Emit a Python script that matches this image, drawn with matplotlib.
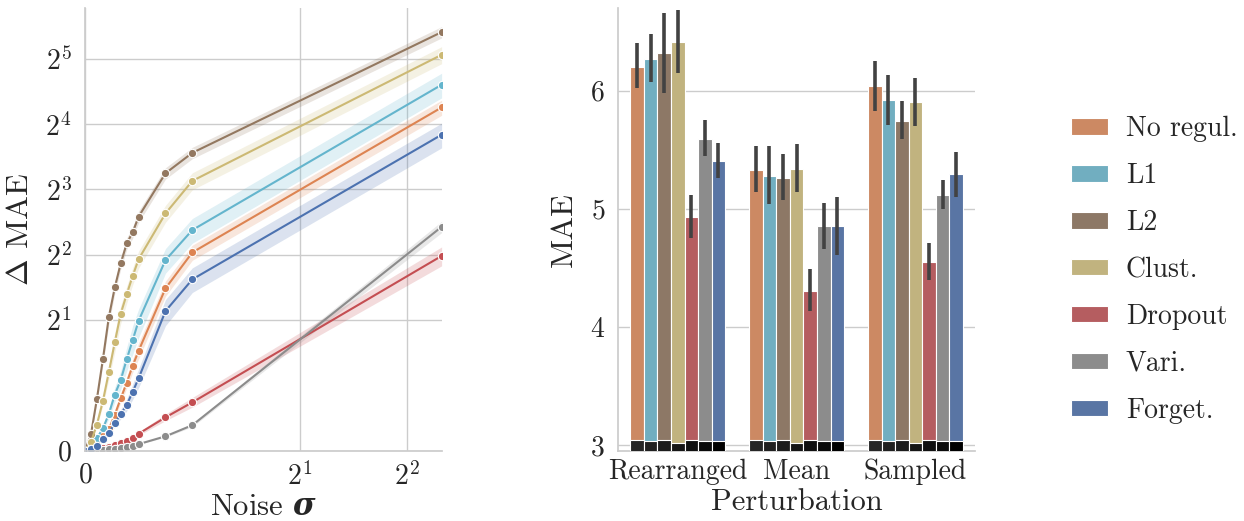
"""
Noise robustness (left) and perturbation MAE (right) per regularisation
"""
import colorsys
import numpy as np
import matplotlib
matplotlib.use("Agg")
from matplotlib import pyplot as plt
from matplotlib.axes import Axes
from matplotlib.colors import to_rgb
from matplotlib.patches import Patch
from matplotlib.ticker import NullFormatter

# ---- data -------------------------------------------------------------
methods: list = ["No regul.", "L1", "L2", "Clust.", "Dropout", "Vari.", "Forget."]
method_colors: list = ["#DD8452", "#64B5CD", "#937860", "#CCB974",
                       "#C44E52", "#8C8C8C", "#4C72B0"]

noise_sigma: list = [0, 0.056, 0.111, 0.167, 0.222, 0.278, 0.333, 0.389,
                     0.444, 0.5, 0.75, 1.0, 5.0]

dmae_no_regul: list = [0, 0.04, 0.12, 0.23, 0.33, 0.55, 0.80, 1.04, 1.30, 1.53, 2.8, 4.1, 19.1]
dmae_l1: list = [0, 0.08, 0.19, 0.34, 0.56, 0.86, 1.08, 1.40, 1.69, 1.99, 3.78, 5.2, 24.3]
dmae_l2: list = [0, 0.25, 0.79, 1.40, 2.06, 2.83, 3.65, 4.51, 5.07, 6.0, 9.5, 11.8, 42.5]
dmae_clust: list = [0, 0.13, 0.40, 0.76, 1.20, 1.66, 2.14, 2.63, 3.19, 3.82, 6.2, 8.76, 33.4]
dmae_dropout: list = [0, 0.01, 0.02, 0.04, 0.06, 0.09, 0.11, 0.15, 0.19, 0.26, 0.51, 0.74, 3.95]
dmae_vari: list = [0, 0.002, 0.005, 0.01, 0.02, 0.03, 0.04, 0.05, 0.07, 0.10, 0.22, 0.39, 5.38]
dmae_forget: list = [0, 0.03, 0.07, 0.18, 0.27, 0.42, 0.56, 0.70, 0.90, 1.11, 2.2, 3.08, 14.3]
# relative half width of the confidence band per method
dmae_spread: list = [0.08, 0.13, 0.06, 0.09, 0.10, 0.06, 0.13]

perturbations: list = ["Rearranged", "Mean", "Sampled"]
# MAE per method, one value per perturbation
mae_no_regul: list = [6.20, 5.33, 6.04]
mae_l1: list = [6.27, 5.28, 5.92]
mae_l2: list = [6.32, 5.26, 5.74]
mae_clust: list = [6.41, 5.34, 5.90]
mae_dropout: list = [4.93, 4.30, 4.55]
mae_vari: list = [5.59, 4.85, 5.12]
mae_forget: list = [5.40, 4.85, 5.29]
# error bar ends (low, high)
mae_err_no_regul: list = [(6.02, 6.40), (5.14, 5.53), (5.83, 6.25)]
mae_err_l1: list = [(6.07, 6.48), (5.04, 5.53), (5.71, 6.13)]
mae_err_l2: list = [(5.98, 6.66), (5.07, 5.46), (5.59, 5.91)]
mae_err_clust: list = [(6.15, 6.68), (5.14, 5.55), (5.70, 6.11)]
mae_err_dropout: list = [(4.75, 5.12), (4.13, 4.49), (4.40, 4.71)]
mae_err_vari: list = [(5.45, 5.75), (4.66, 5.05), (5.00, 5.24)]
mae_err_forget: list = [(5.26, 5.56), (4.61, 5.10), (5.10, 5.48)]
# unperturbed baseline MAE (black bars)
mae_baseline: list = [3.04, 3.03, 3.04, 3.02, 3.045, 3.03, 3.03]
baseline_colors: list = ["#262626", "#202020", "#1c1c1c", "#161616",
                         "#101010", "#0a0a0a", "#000000"]

dmae_series = [dmae_no_regul, dmae_l1, dmae_l2, dmae_clust,
               dmae_dropout, dmae_vari, dmae_forget]
mae_series = [mae_no_regul, mae_l1, mae_l2, mae_clust,
              mae_dropout, mae_vari, mae_forget]
mae_err_series = [mae_err_no_regul, mae_err_l1, mae_err_l2, mae_err_clust,
                  mae_err_dropout, mae_err_vari, mae_err_forget]


def desaturate(color, prop: float = .75):
    """Same as seaborn's bar desaturation"""
    h, l, s = colorsys.rgb_to_hls(*to_rgb(color))
    return colorsys.hls_to_rgb(h, l, s * prop)


# ---- style ------------------------------------------------------------
TEXT = "#262626"
GRID = "#cccccc"
plt.rcParams.update({
    "font.family": ["cmr10", "DejaVu Serif"],
    "mathtext.fontset": "custom",
    "mathtext.rm": "cmr10",
    "mathtext.it": "cmmi10",
    "mathtext.bf": "DejaVu Serif:bold",
    "mathtext.bfit": "DejaVu Serif:italic:bold",
    "mathtext.fallback": "cm",
    "axes.formatter.use_mathtext": True,
    "axes.unicode_minus": False,
    "text.color": TEXT,
    "axes.labelcolor": TEXT,
    "xtick.color": TEXT,
    "ytick.color": TEXT,
    "axes.edgecolor": GRID,
    "axes.linewidth": 1.25,
    "grid.color": GRID,
    "grid.linewidth": 1.0,
    "xtick.major.size": 0,
    "ytick.major.size": 0,
    "xtick.minor.size": 0,
    "ytick.minor.size": 0,
})

fig = plt.figure(figsize=(12.44, 5.21), dpi=100)
ax1: Axes = fig.add_axes([0.0683, 0.135, 0.2867, 0.850])
ax2: Axes = fig.add_axes([0.4970, 0.135, 0.2867, 0.850])

# ---- left: delta MAE vs noise ------------------------------------------
x = np.array(noise_sigma)
for name, color, values, spread in zip(methods, method_colors, dmae_series, dmae_spread):
    y = np.array(values)
    ax1.fill_between(x, y * (1 - spread), y * (1 + spread), color=color,
                     alpha=.2, linewidth=0)
    ax1.plot(x, y, color=color, linewidth=1.5, marker="o", markersize=6,
             markeredgecolor="white", markeredgewidth=.8, label=name, clip_on=True)

ax1.set_xscale("symlog", base=2, linthresh=2, linscale=1)
ax1.set_yscale("symlog", base=2, linthresh=2, linscale=1)
ax1.set_xlim(0, 5)
ax1.set_ylim(0, 55)
ax1.xaxis.set_minor_formatter(NullFormatter())
ax1.yaxis.set_minor_formatter(NullFormatter())
ax1.grid(True, which="major")
ax1.set_axisbelow(True)
ax1.tick_params(axis="x", labelsize=20, pad=8)
ax1.tick_params(axis="y", labelsize=20, pad=9.5)
ax1.set_xlabel(r"Noise $\mathbfit{\sigma}$", fontsize=22, labelpad=2)
ax1.set_ylabel(r"$\Delta$ MAE", fontsize=23, labelpad=8.5)
for side in ["top", "right"]:
    ax1.spines[side].set_visible(False)

# ---- right: MAE per perturbation -----------------------------------------
n = len(methods)
WIDTH = .8 / n
groups = np.arange(len(perturbations))
for i, (name, color, values, errs) in enumerate(zip(methods, method_colors,
                                                    mae_series, mae_err_series)):
    pos = groups - .4 + WIDTH * (i + .5)
    ax2.bar(pos, values, width=WIDTH, color=desaturate(color),
            edgecolor="white", linewidth=.8, label=name, zorder=2)
    for p, (lo, hi) in zip(pos, errs):
        ax2.plot([p, p], [lo, hi], color="#424242", linewidth=2.6,
                 solid_capstyle="butt", zorder=4)
    ax2.bar(pos, [mae_baseline[i]] * len(groups), width=WIDTH,
            color=baseline_colors[i], edgecolor="white", linewidth=.8, zorder=3)

ax2.set_xlim(-.5, 2.5)
ax2.set_ylim(2.952, 6.70)
ax2.set_yticks([3, 4, 5, 6])
ax2.set_xticks(groups)
ax2.set_xticklabels(perturbations)
ax2.grid(True, axis="y")
ax2.set_axisbelow(True)
ax2.tick_params(axis="x", labelsize=20, pad=6)
ax2.tick_params(axis="y", labelsize=20, pad=9.5)
ax2.set_xlabel("Perturbation", fontsize=22, labelpad=2)
ax2.set_ylabel("MAE", fontsize=23, labelpad=8.5)
for side in ["top", "right"]:
    ax2.spines[side].set_visible(False)

handles = [Patch(facecolor=desaturate(c), edgecolor="white", linewidth=.8)
           for c in method_colors]
fig.legend(handles, methods, loc="center left", bbox_to_anchor=(0.8607, 0.482),
           frameon=False, fontsize=20, handlelength=1.33, handleheight=.54,
           labelspacing=.74, borderpad=0, borderaxespad=0, handletextpad=.65)

plt.savefig("out.png", dpi=100)
